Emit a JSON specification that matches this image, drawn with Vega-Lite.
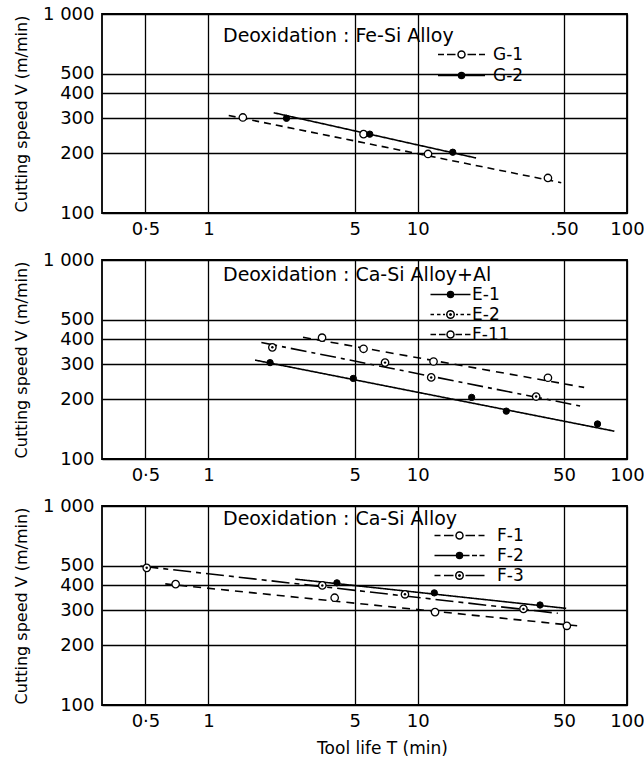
{
  "$schema": "https://vega.github.io/schema/vega-lite/v6.json",
  "background": "white",
  "padding": {"left": 12, "top": 4, "right": 0, "bottom": 4},
  "spacing": 11,
  "resolve": {
    "scale": {"strokeDash": "independent", "shape": "independent", "fill": "independent"},
    "legend": {"strokeDash": "independent", "shape": "independent", "fill": "independent"}
  },
  "datasets": {
    "p1_points": [
      {"series": "G-1", "marker": "open", "T": 1.46, "V": 302},
      {"series": "G-1", "marker": "open", "T": 5.51, "V": 249},
      {"series": "G-1", "marker": "open", "T": 11.2, "V": 198},
      {"series": "G-1", "marker": "open", "T": 41.9, "V": 150},
      {"series": "G-2", "marker": "filled", "T": 2.36, "V": 299},
      {"series": "G-2", "marker": "filled", "T": 5.9, "V": 249},
      {"series": "G-2", "marker": "filled", "T": 14.7, "V": 202}
    ],
    "p1_lines": [
      {"series": "G-1", "T": 1.25, "V": 309},
      {"series": "G-1", "T": 48.5, "V": 142},
      {"series": "G-2", "T": 2.05, "V": 319},
      {"series": "G-2", "T": 19.0, "V": 189}
    ],
    "p2_points": [
      {"series": "E-1", "marker": "filled", "T": 1.97, "V": 305},
      {"series": "E-1", "marker": "filled", "T": 4.92, "V": 254},
      {"series": "E-1", "marker": "filled", "T": 18.1, "V": 204},
      {"series": "E-1", "marker": "filled", "T": 26.5, "V": 174},
      {"series": "E-1", "marker": "filled", "T": 72.3, "V": 150},
      {"series": "E-2", "marker": "dot", "T": 2.02, "V": 364},
      {"series": "E-2", "marker": "dot", "T": 6.98, "V": 305},
      {"series": "E-2", "marker": "dot", "T": 11.6, "V": 257},
      {"series": "E-2", "marker": "dot", "T": 36.8, "V": 206},
      {"series": "F-11", "marker": "open", "T": 3.49, "V": 407},
      {"series": "F-11", "marker": "open", "T": 5.51, "V": 358},
      {"series": "F-11", "marker": "open", "T": 11.9, "V": 309},
      {"series": "F-11", "marker": "open", "T": 41.9, "V": 256}
    ],
    "p2_lines": [
      {"series": "E-1", "T": 1.67, "V": 314},
      {"series": "E-1", "T": 87, "V": 138},
      {"series": "E-2", "T": 1.79, "V": 385},
      {"series": "E-2", "T": 62.4, "V": 183},
      {"series": "F-11", "T": 2.83, "V": 409},
      {"series": "F-11", "T": 62.4, "V": 229}
    ],
    "p3_points": [
      {"series": "F-1", "marker": "open", "T": 0.697, "V": 405},
      {"series": "F-1", "marker": "open", "T": 4.01, "V": 346},
      {"series": "F-1", "marker": "open", "T": 12.1, "V": 293},
      {"series": "F-1", "marker": "open", "T": 51.6, "V": 250},
      {"series": "F-2", "marker": "filled", "T": 4.11, "V": 411},
      {"series": "F-2", "marker": "filled", "T": 12.0, "V": 366},
      {"series": "F-2", "marker": "filled", "T": 38.4, "V": 318},
      {"series": "F-3", "marker": "dot", "T": 0.507, "V": 489},
      {"series": "F-3", "marker": "dot", "T": 3.5, "V": 399},
      {"series": "F-3", "marker": "dot", "T": 8.69, "V": 360},
      {"series": "F-3", "marker": "dot", "T": 32, "V": 304}
    ],
    "p3_lines": [
      {"series": "F-1", "T": 0.622, "V": 406},
      {"series": "F-1", "T": 60, "V": 249},
      {"series": "F-2", "T": 2.6, "V": 429},
      {"series": "F-2", "T": 51.2, "V": 306},
      {"series": "F-3", "T": 0.473, "V": 499},
      {"series": "F-3", "T": 46.7, "V": 289}
    ]
  },
  "vconcat": [
    {
      "width": 525,
      "height": 199,
      "title": {"text": "Deoxidation : Fe-Si Alloy", "dx": 121, "offset": -41},
      "encoding": {
        "x": {"field": "T", "type": "quantitative", "scale": {"type": "log", "domain": [0.31, 100], "nice": false},
              "axis": {"values": [0.5, 1, 5, 10, 50, 100], "title": null, "labelExpr": "datum.value == 0.5 ? '0·5' : datum.value == 50 ? '.50' : format(datum.value, 'd')"}},
        "y": {"field": "V", "type": "quantitative", "scale": {"type": "log", "domain": [100, 1000], "nice": false},
              "axis": {"values": [100, 200, 300, 400, 500, 1000], "title": "Cutting speed V (m/min)", "labelExpr": "datum.value == 1000 ? '1 000' : format(datum.value, 'd')"}}
      },
      "layer": [
        {"data": {"name": "p1_lines"}, "mark": {"type": "line", "color": "black", "strokeWidth": 1.6},
         "encoding": {"strokeDash": {"field": "series", "type": "nominal", "scale": {"range": [[7, 5], [1, 0]]}, "legend": null}}},
        {"data": {"name": "p1_points"}, "transform": [{"filter": "datum.marker == 'open'"}],
         "mark": {"type": "point", "shape": "circle", "filled": true, "fill": "white", "stroke": "black", "strokeWidth": 1.3, "size": 55, "opacity": 1}},
        {"data": {"name": "p1_points"}, "transform": [{"filter": "datum.marker == 'filled'"}],
         "mark": {"type": "point", "shape": "circle", "filled": true, "fill": "black", "stroke": "black", "strokeWidth": 1, "size": 40, "opacity": 1}},
        {"data": {"name": "p1_points"},
         "mark": {"type": "point", "filled": true, "stroke": "black", "opacity": 0},
         "encoding": {
           "shape": {"field": "series", "type": "nominal",
             "scale": {"domain": ["G-1", "G-2"], "range": [
               "M-4.7,0L-3.5,0M-2.9,0L-1.2,0M-0.7,0A0.7,0.7,0,1,1,0.7,0A0.7,0.7,0,1,1,-0.7,0ZM1.2,0L2.9,0M3.5,0L4.7,0",
               "M-4.7,0L4.7,0M-0.6,0A0.6,0.6,0,1,1,0.6,0A0.6,0.6,0,1,1,-0.6,0Z"]},
             "legend": {"title": null, "legendX": 351, "legendY": 32, "labelOffset": 23, "rowPadding": 3,
                        "encode": {"symbols": {"update": {"stroke": {"value": "black"}, "strokeWidth": {"value": 1.5}, "strokeOpacity": {"value": 1}, "opacity": {"value": 1}}}}}},
           "fill": {"field": "series", "type": "nominal",
             "scale": {"domain": ["G-1", "G-2"], "range": ["white", "black"]},
             "legend": {"title": null, "legendX": 351, "legendY": 32, "labelOffset": 23, "rowPadding": 3,
                        "encode": {"symbols": {"update": {"stroke": {"value": "black"}, "strokeWidth": {"value": 1.5}, "strokeOpacity": {"value": 1}, "opacity": {"value": 1}}}}}}
         }}
      ]
    },
    {
      "width": 525,
      "height": 199,
      "title": {"text": "Deoxidation : Ca-Si Alloy+Al", "dx": 121, "offset": -34},
      "encoding": {
        "x": {"field": "T", "type": "quantitative", "scale": {"type": "log", "domain": [0.31, 100], "nice": false},
              "axis": {"values": [0.5, 1, 5, 10, 50, 100], "title": null, "labelExpr": "datum.value == 0.5 ? '0·5' : format(datum.value, 'd')"}},
        "y": {"field": "V", "type": "quantitative", "scale": {"type": "log", "domain": [100, 1000], "nice": false},
              "axis": {"values": [100, 200, 300, 400, 500, 1000], "title": "Cutting speed V (m/min)", "labelExpr": "datum.value == 1000 ? '1 000' : format(datum.value, 'd')"}}
      },
      "layer": [
        {"data": {"name": "p2_lines"}, "mark": {"type": "line", "color": "black", "strokeWidth": 1.6},
         "encoding": {"strokeDash": {"field": "series", "type": "nominal", "scale": {"range": [[1, 0], [16, 5, 4, 5], [8, 6]]}, "legend": null}}},
        {"data": {"name": "p2_points"}, "transform": [{"filter": "datum.marker == 'open' || datum.marker == 'dot'"}],
         "mark": {"type": "point", "shape": "circle", "filled": true, "fill": "white", "stroke": "black", "strokeWidth": 1.3, "size": 55, "opacity": 1}},
        {"data": {"name": "p2_points"}, "transform": [{"filter": "datum.marker == 'dot'"}],
         "mark": {"type": "point", "shape": "circle", "filled": true, "fill": "black", "size": 6, "opacity": 1}},
        {"data": {"name": "p2_points"}, "transform": [{"filter": "datum.marker == 'filled'"}],
         "mark": {"type": "point", "shape": "circle", "filled": true, "fill": "black", "stroke": "black", "strokeWidth": 1, "size": 40, "opacity": 1}},
        {"data": {"name": "p2_points"},
         "mark": {"type": "point", "filled": true, "stroke": "black", "opacity": 0},
         "encoding": {
           "shape": {"field": "series", "type": "nominal",
             "scale": {"domain": ["E-1", "E-2", "F-11"], "range": [
               "M-4,0L4,0M-0.6,0A0.6,0.6,0,1,1,0.6,0A0.6,0.6,0,1,1,-0.6,0Z",
               "M-4,0L-3.3,0M-2.7,0L-2,0M-1.5,0L-1.1,0M-0.75,0A0.75,0.75,0,1,1,0.75,0A0.75,0.75,0,1,1,-0.75,0ZM-0.15,0A0.15,0.15,0,1,1,0.15,0A0.15,0.15,0,1,1,-0.15,0ZM1.1,0L1.5,0M2,0L2.7,0M3.3,0L4,0",
               "M-4,0L-2.9,0M-2.3,0L-1,0M-0.7,0A0.7,0.7,0,1,1,0.7,0A0.7,0.7,0,1,1,-0.7,0ZM1,0L2.3,0M2.9,0L4,0"]},
             "legend": {"title": null, "legendX": 340, "legendY": 26, "labelOffset": 13, "rowPadding": 2,
                        "encode": {"symbols": {"update": {"stroke": {"value": "black"}, "strokeWidth": {"value": 1.5}, "strokeOpacity": {"value": 1}, "opacity": {"value": 1}}}}}},
           "fill": {"field": "series", "type": "nominal",
             "scale": {"domain": ["E-1", "E-2", "F-11"], "range": ["black", "white", "white"]},
             "legend": {"title": null, "legendX": 340, "legendY": 26, "labelOffset": 13, "rowPadding": 2,
                        "encode": {"symbols": {"update": {"stroke": {"value": "black"}, "strokeWidth": {"value": 1.5}, "strokeOpacity": {"value": 1}, "opacity": {"value": 1}}}}}}
         }}
      ]
    },
    {
      "width": 525,
      "height": 199,
      "title": {"text": "Deoxidation : Ca-Si Alloy", "dx": 121, "offset": -32},
      "encoding": {
        "x": {"field": "T", "type": "quantitative", "scale": {"type": "log", "domain": [0.31, 100], "nice": false},
              "axis": {"values": [0.5, 1, 5, 10, 50, 100], "title": "Tool life T (min)", "titlePadding": 10, "titleFontSize": 17, "titleX": 280, "labelExpr": "datum.value == 0.5 ? '0·5' : format(datum.value, 'd')"}},
        "y": {"field": "V", "type": "quantitative", "scale": {"type": "log", "domain": [100, 1000], "nice": false},
              "axis": {"values": [100, 200, 300, 400, 500, 1000], "title": "Cutting speed V (m/min)", "labelExpr": "datum.value == 1000 ? '1 000' : format(datum.value, 'd')"}}
      },
      "layer": [
        {"data": {"name": "p3_lines"}, "mark": {"type": "line", "color": "black", "strokeWidth": 1.6},
         "encoding": {"strokeDash": {"field": "series", "type": "nominal", "scale": {"range": [[8, 6], [1, 0], [18, 5, 5, 5]]}, "legend": null}}},
        {"data": {"name": "p3_points"}, "transform": [{"filter": "datum.marker == 'open' || datum.marker == 'dot'"}],
         "mark": {"type": "point", "shape": "circle", "filled": true, "fill": "white", "stroke": "black", "strokeWidth": 1.3, "size": 55, "opacity": 1}},
        {"data": {"name": "p3_points"}, "transform": [{"filter": "datum.marker == 'dot'"}],
         "mark": {"type": "point", "shape": "circle", "filled": true, "fill": "black", "size": 6, "opacity": 1}},
        {"data": {"name": "p3_points"}, "transform": [{"filter": "datum.marker == 'filled'"}],
         "mark": {"type": "point", "shape": "circle", "filled": true, "fill": "black", "stroke": "black", "strokeWidth": 1, "size": 40, "opacity": 1}},
        {"data": {"name": "p3_points"},
         "mark": {"type": "point", "filled": true, "stroke": "black", "opacity": 0},
         "encoding": {
           "shape": {"field": "series", "type": "nominal",
             "scale": {"domain": ["F-1", "F-2", "F-3"], "range": [
               "M-5,0L-3.8,0M-3.1,0L-1.2,0M-0.7,0A0.7,0.7,0,1,1,0.7,0A0.7,0.7,0,1,1,-0.7,0ZM1.2,0L3.1,0M3.8,0L5,0",
               "M-5,0L-0.6,0M-0.6,0A0.6,0.6,0,1,1,0.6,0A0.6,0.6,0,1,1,-0.6,0ZM0.6,0L2,0M2.5,0L3.5,0M4,0L5,0",
               "M-5,0L-3.8,0M-3.1,0L-1.2,0M-0.75,0A0.75,0.75,0,1,1,0.75,0A0.75,0.75,0,1,1,-0.75,0ZM-0.15,0A0.15,0.15,0,1,1,0.15,0A0.15,0.15,0,1,1,-0.15,0ZM1.2,0L5,0"]},
             "legend": {"title": null, "legendX": 349, "legendY": 21, "labelOffset": 29, "rowPadding": 2,
                        "encode": {"symbols": {"update": {"stroke": {"value": "black"}, "strokeWidth": {"value": 1.5}, "strokeOpacity": {"value": 1}, "opacity": {"value": 1}}}}}},
           "fill": {"field": "series", "type": "nominal",
             "scale": {"domain": ["F-1", "F-2", "F-3"], "range": ["white", "black", "white"]},
             "legend": {"title": null, "legendX": 349, "legendY": 21, "labelOffset": 29, "rowPadding": 2,
                        "encode": {"symbols": {"update": {"stroke": {"value": "black"}, "strokeWidth": {"value": 1.5}, "strokeOpacity": {"value": 1}, "opacity": {"value": 1}}}}}}
         }}
      ]
    }
  ],
  "config": {
    "view": {"stroke": "black", "strokeWidth": 1.8},
    "axis": {
      "domain": false, "ticks": false, "grid": true, "gridColor": "black", "gridWidth": 1.3, "gridOpacity": 1,
      "labelFont": "DejaVu Sans", "labelFontSize": 18, "labelColor": "black", "labelFlush": false, "labelOverlap": false,
      "titleFont": "DejaVu Sans", "titleFontWeight": "normal", "titleColor": "black", "titleFontSize": 16
    },
    "axisX": {"labelPadding": 7},
    "axisY": {"labelPadding": 8, "titlePadding": 13},
    "legend": {
      "orient": "none", "direction": "vertical", "padding": 0,
      "labelFont": "DejaVu Sans", "labelFontSize": 17, "labelColor": "black",
      "symbolSize": 100, "symbolStrokeColor": "black", "symbolStrokeWidth": 1.5, "symbolOpacity": 1
    },
    "title": {"font": "DejaVu Sans", "fontWeight": "normal", "fontSize": 19, "color": "black", "anchor": "start", "frame": "group", "baseline": "alphabetic"}
  }
}
